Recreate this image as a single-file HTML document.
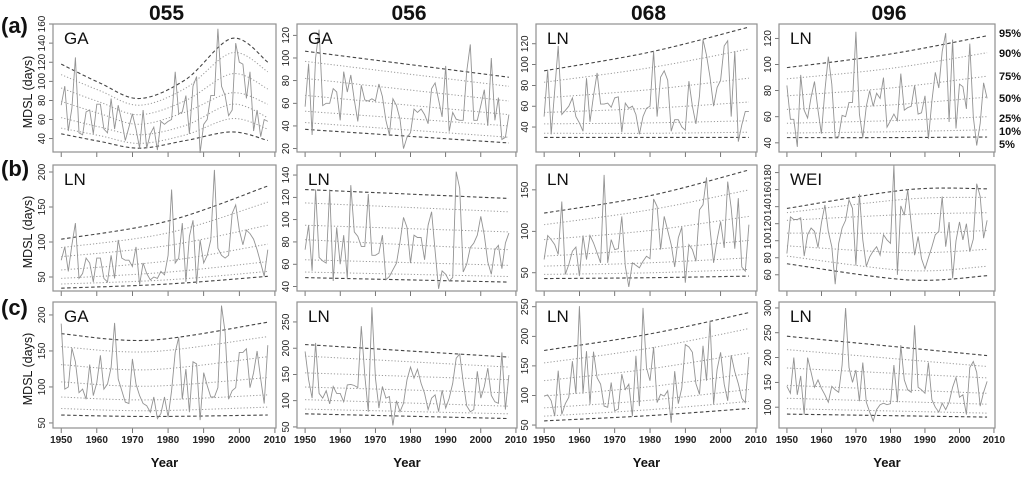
<!DOCTYPE html>
<html><head><meta charset="utf-8">
<style>
html,body{margin:0;padding:0;background:#fff;}
svg{display:block;font-family:"Liberation Sans",Arial,sans-serif;}
</style></head>
<body>
<svg id="fig" width="1024" height="478" viewBox="0 0 1024 478" xmlns="http://www.w3.org/2000/svg"></svg>
<script>
// ---------- data (one set of arrays per panel) ----------
const firstYear = 1950;
const xTickYears = [1950,1960,1970,1980,1990,2000,2010];
const quantileLabels = ["5%","10%","25%","50%","75%","90%","95%"];
const colTitles = ["055","056","068","096"];
const rowTags = ["(a)","(b)","(c)"];

const a1Vals = [75,95,48,72,125,46,44,68,70,45,76,76,50,46,82,50,75,58,38,52,66,50,30,70,30,45,52,28,58,55,58,60,110,66,68,85,45,95,105,25,55,60,85,85,155,95,85,64,70,140,120,118,82,110,48,70,42,60,58];
const a1QYears = [1950,1961,1972,1985,1998,2008];
const a1Q = [[45,37,30,38,47,38],[51,43,35,44,61,50],[62,52,44,54,76,62],[79,66,55,68,88,76],[93,78,65,80,108,92],[107,90,75,93,130,110],[118,98,82,102,145,120]];
const a2Vals = [57,95,32,100,125,58,60,60,73,70,45,88,70,85,63,44,76,63,62,64,62,77,66,45,32,64,58,46,20,30,34,55,52,55,50,42,73,78,63,48,93,35,52,46,45,45,88,112,45,45,58,72,40,100,45,65,28,30,50];
const a2QYears = [1950,2008];
const a2Q = [[37,25],[43,30],[53,40],[67,50],[82,62],[97,75],[106,83]];
const a3Vals = [50,95,33,75,118,52,56,60,68,50,44,36,87,45,70,92,62,62,63,59,68,69,35,63,58,60,52,33,50,58,60,113,50,88,94,85,36,47,47,40,37,84,60,43,70,124,109,88,60,78,85,118,123,50,113,26,42,55,55];
const a3QYears = [1950,1980,2008];
const a3Q = [[30,30,30],[34,34,35],[43,44,46],[54,58,64],[68,76,87],[83,97,115],[94,112,136]];
const a4Vals = [84,58,58,37,92,65,59,75,87,65,47,80,106,85,44,45,61,60,71,71,125,62,44,68,80,68,78,74,90,52,57,62,57,93,65,67,68,84,62,63,76,43,72,94,82,110,124,56,119,51,85,83,66,116,60,38,55,86,74];
const a4QYears = [1950,1980,2008];
const a4Q = [[44,44,44.5],[47.5,48.5,50],[55,57,60],[65.6,69,75],[76,82,91],[89,97,109],[97.6,108,122]];

const b1Vals = [74,93,58,96,127,48,55,77,70,43,77,77,48,43,81,48,103,77,74,74,65,93,39,70,55,46,50,48,58,53,81,175,70,77,127,43,108,131,40,103,70,81,103,203,91,81,77,81,141,153,117,96,117,112,104,89,70,51,89];
const b1QYears = [1950,1980,2008];
const b1Q = [[34,40,51],[40,46,58],[48,57,72],[60,73,97],[79,95,124],[92,113,157],[104,130,180]];
const b2Vals = [73,95,54,127,66,63,61,127,45,93,60,86,47,131,89,85,76,76,123,68,68,70,86,46,49,55,61,80,102,93,61,86,84,84,64,95,107,72,38,54,51,45,48,143,128,53,60,75,79,86,103,86,62,51,73,77,56,79,88];
const b2QYears = [1950,2008];
const b2Q = [[48,44],[53,49],[64,59],[82,73],[95,89],[115,107],[127,119]];
const b3Vals = [66,95,90,84,72,136,48,60,76,81,46,95,66,95,86,74,62,168,62,90,78,79,118,58,33,62,59,56,64,70,67,139,130,78,118,101,84,57,92,105,38,84,78,64,126,132,165,103,62,90,112,80,160,128,79,140,57,52,108];
const b3QYears = [1950,1980,2008];
const b3Q = [[43,44,46],[48,50,54],[58,62,68],[70,78,89],[90,101,118],[108,126,150],[122,143,174]];
const b4Vals = [85,128,125,125,127,82,107,115,111,92,121,142,111,93,49,97,115,124,148,138,71,155,101,70,81,88,93,83,107,101,97,189,60,141,130,160,120,83,105,79,67,80,93,107,111,152,93,122,56,100,122,101,120,87,102,167,152,103,124];
const b4QYears = [1950,1985,2008];
const b4Q = [[73,54,59],[82,65,70],[94,86,90],[109,109,112],[124,131,133],[133,149,151],[138,160,161]];

const c1Vals = [188,97,100,154,135,92,97,83,131,88,106,144,97,104,127,189,111,95,79,77,139,104,88,77,74,65,86,56,63,86,58,95,148,169,83,125,65,135,132,54,120,102,86,86,99,213,176,83,95,99,148,148,153,99,120,150,111,77,158];
const c1QYears = [1950,1975,2008];
const c1Q = [[61,59,61],[70,67,72],[86,82,89],[107,101,113],[131,124,142],[156,149,170],[174,165,190]];
const c2Vals = [194,140,105,210,114,105,119,94,127,114,114,98,130,131,129,125,242,148,79,278,144,86,127,105,108,53,100,79,95,140,164,143,160,133,114,83,105,111,79,120,86,105,133,181,189,136,90,79,83,156,105,127,162,110,98,95,192,83,149];
const c2QYears = [1950,2008];
const c2Q = [[75,66],[84,75],[102,89.5],[126,115],[153,140],[185,164],[207,183]];
const c3Vals = [99,101,91,65,142,68,86,97,158,103,251,103,175,85,174,130,119,82,80,122,74,77,136,110,119,65,167,82,248,147,125,182,88,102,99,108,54,141,86,113,186,182,173,120,102,184,125,226,85,144,173,119,91,168,140,120,95,88,165];
const c3QYears = [1950,1980,2008];
const c3Q = [[57,66,78],[65,76,90],[79,92,110],[99,115,137],[125,145,172],[155,180,213],[176,204,240]];
const c4Vals = [142,128,200,125,163,85,200,170,140,155,138,125,110,142,135,130,185,300,180,150,175,112,190,110,90,72,95,105,108,105,107,185,110,225,155,135,130,265,140,135,128,190,115,100,90,108,95,110,140,160,120,125,85,180,192,170,102,130,152];
const c4QYears = [1950,2008];
const c4Q = [[86,80],[97,88],[118,106],[144,128],[179,159],[216,182],[243,204]];

const panelDists = ["GA","GA","LN","LN","LN","LN","LN","WEI","GA","LN","LN","LN"];
const panelDomains = [[26,160],[17,130],[16,139],[33,131],[30,210],[36,149],[28,180],[41,189],[43,218],[48,288],[45,258],[58,312]];
const panelTicks = [[40,60,80,100,120,140,160],[20,40,60,80,100,120],[40,60,80,100,120],[40,60,80,100,120],
  [50,100,150,200],[40,60,80,100,120,140],[50,100,150],[60,80,100,120,140,160,180],
  [50,100,150,200],[50,100,150,200,250],[50,100,150,200,250],[100,150,200,250,300]];
const panelVals = [a1Vals,a2Vals,a3Vals,a4Vals,b1Vals,b2Vals,b3Vals,b4Vals,c1Vals,c2Vals,c3Vals,c4Vals];
const panelQYears = [a1QYears,a2QYears,a3QYears,a4QYears,b1QYears,b2QYears,b3QYears,b4QYears,c1QYears,c2QYears,c3QYears,c4QYears];
const panelQ = [a1Q,a2Q,a3Q,a4Q,b1Q,b2Q,b3Q,b4Q,c1Q,c2Q,c3Q,c4Q];

// ---------- layout ----------
const NS = "http://www.w3.org/2000/svg";
const svg = document.getElementById("fig");
const colX = [[53,276],[297,517],[536,757],[779,995]];
const rowY = [[24,152],[165,291],[302,428]];
const X0 = 1947.7, X1 = 2010.3;

function mk(tag, attrs, parent){
  const e = document.createElementNS(NS, tag);
  for (const k in attrs) e.setAttribute(k, attrs[k]);
  (parent||svg).appendChild(e);
  return e;
}
function txt(s, attrs, parent){ const t = mk("text", attrs, parent); t.textContent = s; return t; }

function smoothPath(pts){
  if (pts.length === 2) return "M"+pts[0][0]+","+pts[0][1]+"L"+pts[1][0]+","+pts[1][1];
  let d = "M"+pts[0][0]+","+pts[0][1];
  for (let i=0;i<pts.length-1;i++){
    const p0 = pts[Math.max(0,i-1)], p1 = pts[i], p2 = pts[i+1], p3 = pts[Math.min(pts.length-1,i+2)];
    const c1x = p1[0]+(p2[0]-p0[0])/6, c1y = p1[1]+(p2[1]-p0[1])/6;
    const c2x = p2[0]-(p3[0]-p1[0])/6, c2y = p2[1]-(p3[1]-p1[1])/6;
    d += "C"+c1x.toFixed(1)+","+c1y.toFixed(1)+" "+c2x.toFixed(1)+","+c2y.toFixed(1)+" "+p2[0].toFixed(1)+","+p2[1].toFixed(1);
  }
  return d;
}

colTitles.forEach((t,c)=>{
  const e = txt(t,{x:(colX[c][0]+colX[c][1])/2+2,y:20,"font-size":"21","font-weight":"bold","text-anchor":"middle",fill:"#111"});
  
  
});
const tagY = [33,176,315];
rowTags.forEach((t,r)=>{
  const e = txt(t,{x:1,y:tagY[r],"font-size":"22","font-weight":"bold",fill:"#111"});
  
  
  const cy = (rowY[r][0]+rowY[r][1])/2 + 4;
  const yt = txt("MDSL (days)",{x:0,y:0,"font-size":"12.5","text-anchor":"middle",fill:"#111",transform:"translate(32,"+cy+") rotate(-90)"});
  
  
});

for (let p=0;p<12;p++){
  const r = Math.floor(p/4), c = p%4;
  const L = colX[c][0], R = colX[c][1], T = rowY[r][0], B = rowY[r][1];
  const dom = panelDomains[p];
  const xs = yr => L + (yr - X0)/(X1 - X0)*(R - L);
  const ys = v => B - (v - dom[0])/(dom[1]-dom[0])*(B - T);
  const g = mk("g",{});
  
  

  panelTicks[p].forEach(v=>{
    const y = ys(v);
    mk("line",{x1:L-4,x2:L,y1:y,y2:y,stroke:"#555","stroke-width":"0.8"},g);
    const lb = txt(String(v),{x:0,y:0,"font-size":"10","text-anchor":"middle",fill:"#222",transform:"translate("+(L-8)+","+y+") rotate(-90)"},g);
    
    
  });
  xTickYears.forEach(yr=>{
    const x = xs(yr);
    mk("line",{x1:x,x2:x,y1:B,y2:B+5,stroke:"#555","stroke-width":"0.8"},g);
    if (r===2){
      const lb = txt(String(yr),{x:x,y:B+15,"font-size":"10","font-weight":"bold","text-anchor":"middle",fill:"#222"},g);
      
      
    }
  });
  if (r===2){
    const xt = txt("Year",{x:(L+R)/2,y:467,"font-size":"13","font-weight":"bold","text-anchor":"middle",fill:"#111"},g);
    
    
  }

  const qy = panelQYears[p], q = panelQ[p];
  q.forEach((arr,k)=>{
    const pts = arr.map((v,i)=>[xs(qy[i]), ys(v)]);
    const outer = (k===0 || k===6);
    const path = mk("path",{d:smoothPath(pts),fill:"none",stroke:outer?"#444":"#9a9a9a","stroke-width":outer?"1.1":"1","stroke-dasharray":outer?"3.5,2.5":"1.2,2"},g);
    
    
  });

  const vals = panelVals[p];
  const d = vals.map((v,i)=>(i?"L":"M")+xs(firstYear+i).toFixed(1)+","+ys(v).toFixed(1)).join("");
  const line = mk("path",{d:d,fill:"none",stroke:"#939393","stroke-width":"0.9"},g);
  
  

  const box = mk("rect",{x:L,y:T,width:R-L,height:B-T,fill:"none",stroke:"#909090","stroke-width":"1.2"},g);
  
  

  const dl = txt(panelDists[p],{x:L+11,y:T+20,"font-size":"17",fill:"#111"},g);
  
  
}

const legY = [33,53,76,98,118,131,144];
[6,5,4,3,2,1,0].forEach((k,i)=>{
  const e = txt(quantileLabels[k],{x:999,y:legY[i]+4,"font-size":"11","font-weight":"bold",fill:"#111"});
  
  
});
</script>
</body></html>
